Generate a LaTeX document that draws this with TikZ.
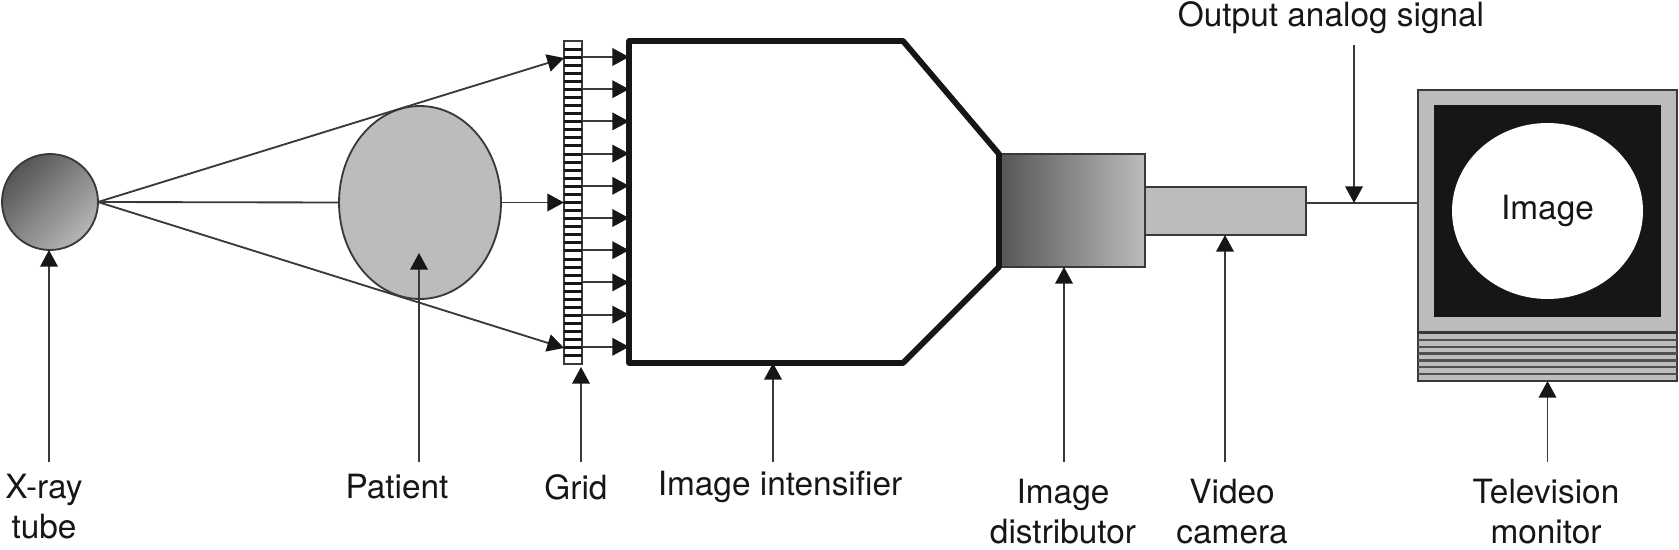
\documentclass[tikz,border=0pt]{standalone}
\usepackage{fontspec}
\setmainfont{TeX Gyre Heros}
\usepackage{xcolor}
\usetikzlibrary{arrows.meta}
\usetikzlibrary{positioning,calc,shapes.geometric}
\definecolor{bodygray}{HTML}{BCBCBC}
\definecolor{shadegray}{HTML}{555555}
\definecolor{inkblack}{HTML}{161616}
\tikzset{
  every node/.style={font=\fontsize{19}{22.7}\selectfont, text=inkblack},
  solidbox/.style={
    draw=inkblack!85,
    rectangle,
    inner sep=0pt,
    outer sep=0pt,
    line width=1.05pt
  },
  pointer/.style={
    draw=inkblack!85,
    line width=1.05pt,
    -{Triangle[length=9.5pt, width=10pt, inkblack]}
  },
  link/.style={
    draw=inkblack!85,
    line width=1.05pt
  },
  tag/.style={
    align=center,
    inner sep=0pt
  }
}

\begin{document}
\begin{tikzpicture}[x=0.02cm, y=-0.02cm]
  \useasboundingbox (0,0) rectangle (1679,550);

  % Main parts of the chain
  \node[solidbox, circle, minimum size=1.92cm, shade, left color=shadegray, right color=bodygray!110!white, shading angle=45] (tube) at (50,202) {};
  \node[solidbox, ellipse, minimum width=3.24cm, minimum height=3.86cm, fill=bodygray] (patient) at (420,202.5) {};
  \node[solidbox, minimum width=0.36cm, minimum height=6.46cm, fill=white] (grid) at (573,202.5) {};
  \node[solidbox, minimum width=2.92cm, minimum height=2.26cm, shade, left color=shadegray, right color=bodygray] (distributor) at (1072,210.5) {};
  \node[solidbox, minimum width=3.22cm, minimum height=0.96cm, fill=bodygray] (camera) at (1225.5,211) {};

  % Television monitor
  \node[solidbox, minimum width=5.18cm, minimum height=4.84cm, fill=bodygray] (monitor) at (1547.5,211) {};
  \node[rectangle, minimum width=4.54cm, minimum height=4.24cm, inner sep=0pt, fill=inkblack] (screen) at (1547.5,211) {};
  \node[ellipse, minimum width=3.82cm, minimum height=3.52cm, inner sep=0pt, fill=white] (image) at (1547.5,211) {Image};
  \node[solidbox, minimum width=5.18cm, minimum height=0.96cm, fill=bodygray, line width=1.6pt] (vents) at (1547.5,357) {};
  \foreach \i in {1,...,6} {
    \draw[link, draw=inkblack!75, line width=1.3pt] ($(vents.north west)!\i/7!(vents.south west)$) -- ($(vents.north east)!\i/7!(vents.south east)$);
  }

  % Slats of the grid
  \foreach \i in {1,...,39} {
    \draw[inkblack, line width=1.7pt] ($(grid.north west)!\i/40!(grid.south west)$) -- ($(grid.north east)!\i/40!(grid.south east)$);
  }

  % Image intensifier outline
  \coordinate (intensnw) at (629,41);
  \coordinate (intenssw) at (629,363);
  \coordinate (intensne) at (903,41);
  \coordinate (intensse) at (903,363);
  \draw[inkblack, line width=3.3pt, line join=round] (intensnw) -- (intensne) -- (distributor.north west) -- (distributor.south west) -- (intensse) -- (intenssw) -- cycle;

  % Beam from the tube
  \coordinate (beamtop) at (564,58);
  \coordinate (beambottom) at (564,348);
  \draw[pointer] (tube.east) -- (beamtop);
  \draw[pointer] (tube.east) -- (beambottom);
  \draw[link] (tube.east) -- (patient.west);
  \draw[pointer] (patient.east) -- (grid.west);

  % Arrows between grid and intensifier
  \foreach \i in {0,...,9} {
    \pgfmathsetmacro{\ypos}{57+32.2*\i}
    \draw[pointer] (grid.east |- 0,\ypos) -- (intensnw |- 0,\ypos);
  }

  % Labels along the bottom
  \node[tag] (tubelabel) at (44,507) {X-ray\\tube};
  \node[tag] (patientlabel) at (397,487) {Patient};
  \node[tag] (gridlabel) at (576,487) {Grid};
  \node[tag] (intenslabel) at (780,487) {Image intensifier};
  \node[tag] (distlabel) at (1063,512) {Image\\distributor};
  \node[tag] (cameralabel) at (1232,512) {Video\\camera};
  \node[tag] (monitorlabel) at (1546,512) {Television\\monitor};
  \node[tag] (signallabel) at (1331,18) {Output analog signal};

  % Free ends of the label arrows
  \coordinate (tubefoot) at (49,462);
  \coordinate (patientfoot) at (419,462);
  \coordinate (patienttip) at (419,253);
  \coordinate (gridfoot) at (581,462);
  \coordinate (gridtip) at (581,367);
  \coordinate (intensfoot) at (773,462);
  \coordinate (distfoot) at (1064,462);
  \coordinate (camerafoot) at (1225,462);
  \coordinate (monitorfoot) at (1547.5,462);
  \coordinate (signaltop) at (1354,45);
  \coordinate (signaljoin) at (1354,203);

  \draw[pointer] (tubefoot) -- (tubefoot |- tube.south);
  \draw[pointer] (patientfoot) -- (patienttip);
  \draw[pointer] (gridfoot) -- (gridtip);
  \draw[pointer] (intensfoot) -- (intensfoot |- intenssw);
  \draw[pointer] (distfoot) -- (distfoot |- distributor.south);
  \draw[pointer] (camerafoot) -- (camerafoot |- camera.south);
  \draw[pointer] (monitorfoot) -- (monitorfoot |- vents.south);

  % Output signal line
  \draw[link] (camera.east |- signaljoin) -- (monitor.west |- signaljoin);
  \draw[pointer] (signaltop) -- (signaljoin);
\end{tikzpicture}
\end{document}
